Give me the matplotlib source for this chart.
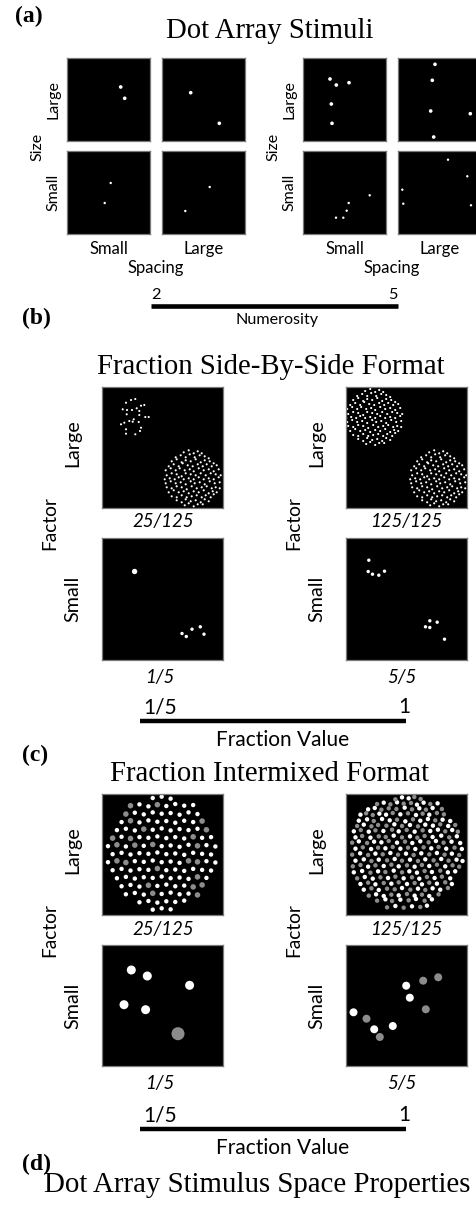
import numpy as np
import matplotlib as mpl
mpl.use('Agg')
from matplotlib import pyplot as plt

W, H = 476, 1212
SERIF = 'Liberation Serif'
SANS = 'Lato'
GREY = '#8c8c8c'

# (a) dot arrays, panel pixel coords (0..83), numerosity 2 and 5
A_N2_BIGSIZE_SMALLSP = [(53.7, 29), (57.7, 40.3)]
A_N2_BIGSIZE_LARGESP = [(28.7, 34.7), (57.3, 65.3)]
A_N2_SMALLSIZE_SMALLSP = [(43.7, 32), (37.7, 52)]
A_N2_SMALLSIZE_LARGESP = [(47.7, 36), (23.3, 60)]
A_N5_BIGSIZE_SMALLSP = [(27, 21), (33.3, 27), (46, 24.7), (28.3, 46), (29, 65.3)]
A_N5_BIGSIZE_LARGESP = [(37, 6.3), (34.3, 22.3), (32.7, 53), (72.3, 55.7), (35.7, 79)]
A_N5_SMALLSIZE_SMALLSP = [(66.7, 44.3), (45.7, 52), (43.7, 59.7), (33, 66.7), (40.3, 66.7)]
A_N5_SMALLSIZE_LARGESP = [(50, 8.7), (69.3, 25.3), (4.3, 38.7), (5.3, 52.7), (73, 54.3)]

# (b) side-by-side, panel pixel coords (0..121)
B_CLUSTER_25 = [(29, 13), (33.3, 12), (24, 15.7), (20.7, 22.3), (25, 23), (30, 23),
                (34.7, 21.3), (39, 18.7), (42.3, 18), (37.3, 24), (24.7, 27.3), (37.3, 28),
                (43.3, 30), (46.7, 30), (22.3, 35.7), (27.3, 34), (30.7, 34.7), (31.7, 32.3),
                (36.7, 35), (19, 37.3), (24, 42.3), (24, 46.7), (33.3, 47.3), (38, 44), (39, 40.7)]
# 125-dot cloud, offsets from cloud centre in pixels
B_CLUSTER_125 = """
-9,-26 -4,-28 1,-25 5,-27 9,-25
-17,-21 -12,-23 -7,-21 -3,-24 2,-21 7,-23 12,-22 16,-20
-21,-17 -16,-19 -11,-16 -7,-18 -2,-17 3,-19 8,-16 12,-18 17,-17 21,-15
-24,-12 -19,-14 -14,-12 -10,-15 -5,-13 0,-12 5,-14 10,-12 14,-14 19,-12 24,-13
-27,-8 -22,-10 -17,-8 -13,-10 -8,-8 -3,-9 1,-7 6,-10 11,-8 16,-9 21,-7 26,-9
-26,-3 -21,-5 -16,-4 -11,-2 -7,-5 -2,-4 3,-3 8,-5 13,-3 18,-5 23,-4 28,-3
-28,1 -23,0 -18,1 -14,-1 -9,1 -4,0 1,1 6,-1 11,1 16,0 21,1 26,-1
-27,5 -22,3 -17,5 -12,4 -7,6 -2,3 2,5 7,4 12,6 17,3 22,5 27,4
-26,9 -21,10 -16,8 -11,9 -6,11 -1,8 4,10 9,9 14,8 19,10 23,9 27,10
-24,14 -19,12 -14,14 -9,13 -4,15 1,13 6,14 11,12 16,15 20,13 24,14
-21,18 -16,19 -11,17 -6,19 -1,18 4,17 9,19 13,17 18,19 21,16
-16,22 -11,24 -7,21 -2,23 3,22 8,24 12,21 16,23
-8,27 -4,25 1,28 5,26 10,26
"""
B_SMALL_1 = [(32.6, 33)]
B_SMALL_5 = [(80, 95), (84.3, 98), (90, 90.7), (98.3, 88.3), (102, 95.7)]
B_SMALL_5A = [(23.3, 21.7), (22.7, 33), (27, 35.7), (33.3, 36.7), (39, 32.7)]
B_SMALL_5B = [(84.3, 82.3), (91.7, 83.7), (80, 88.3), (84.3, 89), (99, 100.7)]

# (c) intermixed, o = white dot, x = grey dot
C_LARGE_25 = """
158,24o 185,20o 212,26o
91,47x 118,43o 145,49o 172,44x 199,48o 226,42o 253,47o 280,45o
77,72x 104,68o 131,73o 158,67o 185,71o 212,69o 239,74o 266,67o 293,72o
64,96o 91,92x 118,97o 145,91o 172,95o 199,93o 226,98o 253,92o 280,96o 307,93x
50,120o 77,116o 104,121o 131,117x 158,119o 185,115o 212,121o 239,117o 266,120o 293,116o 320,119x
37,144x 64,140o 91,145x 118,141o 145,143o 172,139o 199,144o 226,141o 253,145o 280,140x 307,143o 334,141o
23,168o 50,164x 77,169o 104,165x 131,167o 158,163x 185,168o 212,166o 239,170o 266,164o 293,167x 320,165o 347,169o
37,192o 64,188o 91,193o 118,189o 145,191o 172,187o 199,192o 226,190o 253,194o 280,188o 307,191o 334,193o
23,216o 50,212x 77,217x 104,213o 131,215o 158,211o 185,216o 212,214o 239,218o 266,212x 293,215x 320,213o 347,217o
37,240o 64,236o 91,241o 118,237o 145,239o 172,235x 199,240o 226,238o 253,242o 280,236o 307,239o 334,241o
50,264o 77,260o 104,265o 131,261o 158,263o 185,259o 212,264o 239,262o 266,266o 293,260x 320,263o
64,288o 91,284o 118,289o 145,285x 172,287o 199,283o 226,288o 253,286o 280,290x 307,284x
77,312o 104,308o 131,313o 158,309x 185,311o 212,307o 239,312o 266,310o 293,314x
118,336o 145,332o 172,337o 199,333o 226,335o 253,331o
158,358o 185,354o 212,357o
"""
C_LARGE_125 = """
160,28x 180,22o 200,25o 217,21x 236,27x
105,42x 125,38o 145,43x 165,37o 185,41x 207,39x 225,44o 245,38o 265,42x 287,40o
78,58o 98,54o 118,59x 140,55x 163,57x 188,53o 210,58x 232,55o 252,59x 272,54o 300,57x
55,74o 72,70x 92,75x 112,71o 132,74o 152,69x 175,73o 198,70x 222,75o 242,71x 262,74o 285,69x 306,73x
50,92o 75,88o 95,93x 120,87o 143,91o 165,89x 190,94o 213,88x 235,92o 258,87o 280,91x 302,89o 325,93o
45,108x 65,104o 88,109x 108,105x 133,107x 157,103o 180,108x 204,105o 228,109x 250,104o 273,107o 295,103x 319,108o 340,105x
35,124o 56,120x 80,125o 100,121x 124,123o 150,119x 170,124o 194,120x 218,125o 242,121x 265,123o 288,119o 310,124x 331,120o 348,125x
40,142o 60,138x 85,143o 110,139x 131,141x 155,137o 180,142x 204,139o 226,143x 248,138x 272,141o 298,137o 322,142x 345,139o
30,158x 50,154o 75,159x 96,155o 118,157o 140,153x 165,158o 189,155x 211,159o 235,154o 260,157x 282,153o 305,158x 329,155o 355,159o
40,176o 62,172x 87,177o 108,173x 130,175o 152,171x 175,176o 198,173x 220,177o 245,172x 268,175o 290,171x 313,176o 338,173x 360,177o
30,194x 54,190o 78,195x 100,191o 122,193x 145,189o 168,194x 192,191o 215,195x 238,190o 262,193x 285,189o 308,194x 330,191o 352,195x
40,212o 65,208o 88,213x 110,209o 135,211x 158,207o 180,212x 204,209o 228,213x 250,208o 275,211x 298,207o 320,212x 344,209o 362,213o
32,229x 55,225x 78,230o 100,226x 125,228o 148,224x 170,229o 195,226x 218,230o 240,225x 262,228o 285,224x 310,229o 332,226x 352,230x
35,247o 60,243o 85,248x 108,244o 130,246x 155,242o 180,247x 202,244o 225,248o 248,243x 270,246o 295,242x 318,247o 340,244o
45,265x 68,261o 92,266o 115,262x 138,264o 160,260x 185,265o 210,262x 232,266o 255,261x 278,264o 300,260x 325,265o
55,282o 78,278x 100,283o 125,279x 148,281o 170,277x 195,282o 218,279x 240,283o 262,278x 285,281o 310,277x 330,282o
65,299o 88,295x 110,300o 135,296x 158,298x 180,294o 205,299x 228,296o 250,300x 272,295o 295,299o 318,294x
80,317x 102,313o 125,318o 148,314x 170,316o 195,312x 218,317o 240,314x 262,318o 290,313x
105,332x 130,328o 150,333x 175,329o 200,331x 222,327o 248,332x 270,328o
135,352x 160,348o 185,353x 210,349o 235,351x 255,347o
"""
C_SMALL_1_WHITE = [(29.3, 25), (45.3, 31), (87.6, 40.3), (22, 59.7), (43.6, 64.7)]
C_SMALL_1_GREY = [(76, 88.7)]
C_SMALL_5_WHITE = [(8, 67.3), (28.7, 84.3), (47.3, 81), (60.7, 40.7), (64.3, 52.7)]
C_SMALL_5_GREY = [(21, 73.7), (34.3, 92), (77.7, 35.7), (92.7, 32.3), (80.3, 64.3)]

ROW_LABELS = ['Large', 'Small']
COL_LABELS = ['Small', 'Large']
NUMEROSITY_ENDS = ['2', '5']
FRACTION_ENDS = ['1/5', '1']
B_FRACTIONS = ['25/125', '125/125', '1/5', '5/5']


def parse(txt):
    xs, ys, cs = [], [], []
    for tok in txt.split():
        c = 'o'
        if tok[-1].isalpha():
            c, tok = tok[-1], tok[:-1]
        x, y = tok.split(',')
        xs.append(float(x)); ys.append(float(y)); cs.append(c)
    return np.array(xs), np.array(ys), np.array(cs)


fig = plt.figure(figsize=(W / 100, H / 100), dpi=100)
bg = fig.add_axes([0, 0, 1, 1])
bg.set_xlim(0, W)
bg.set_ylim(H, 0)
bg.axis('off')


def panel(x, y, w, h, xlim, ylim):
    ax = fig.add_axes([x / W, 1 - (y + h) / H, w / W, h / H])
    ax.set_facecolor('black')
    ax.set_xticks([]); ax.set_yticks([])
    for s in ax.spines.values():
        s.set_color('#7a7a7a'); s.set_linewidth(0.9)
    ax.set_xlim(*xlim); ax.set_ylim(*ylim)
    return ax


def dots(ax, pts, s, color='white'):
    p = np.array(pts)
    ax.scatter(p[:, 0], p[:, 1], s=s, c=color, edgecolors='none')


def sans(x, y, t, size, **kw):
    bg.text(x, y, t, fontsize=size, family=SANS, ha='center', va='center', **kw)


def serif_title(x, y, t, size):
    bg.text(x, y, t, fontsize=size, family=SERIF, ha='center', va='baseline')


def letter(x, y, t):
    bg.text(x, y, t, fontsize=17, family=SERIF, weight='bold', ha='left', va='center')


# ---------------- (a)
letter(15, 16, '(a)')
serif_title(270, 38, 'Dot Array Stimuli', 20.7)
a_sets = [[A_N2_BIGSIZE_SMALLSP, A_N2_BIGSIZE_LARGESP, A_N2_SMALLSIZE_SMALLSP, A_N2_SMALLSIZE_LARGESP],
          [A_N5_BIGSIZE_SMALLSP, A_N5_BIGSIZE_LARGESP, A_N5_SMALLSIZE_SMALLSP, A_N5_SMALLSIZE_LARGESP]]
for g, gx in enumerate([67, 303]):
    colx = [gx, gx + 95]
    for k, pts in enumerate(a_sets[g]):
        r, c = divmod(k, 2)
        ax = panel(colx[c], [58, 151][r], 83, 83, (0, 83), (83, 0))
        dots(ax, pts, [7, 3][r])
    for r, lab in enumerate(ROW_LABELS):
        sans(gx - 14, [99.5, 192.5][r], lab, 11.5, rotation=90)
    sans(gx - 30, 147, 'Size', 11.5, rotation=90)
    for c, lab in enumerate(COL_LABELS):
        sans(colx[c] + 41.5, 249, lab, 12)
    sans(gx + 89, 268, 'Spacing', 12)

bg.plot([151, 398], [306, 306], color='k', lw=3.3, solid_capstyle='butt')
bg.text(151, 295, NUMEROSITY_ENDS[0], fontsize=11.8, family=SANS, ha='left', va='center')
bg.text(398, 295, NUMEROSITY_ENDS[1], fontsize=11.8, family=SANS, ha='right', va='center')
sans(277, 320, 'Numerosity', 11.6)

# ---------------- (b)
letter(22, 318, '(b)')
serif_title(271, 374, 'Fraction Side-By-Side Format', 20.7)
cx, cy, _ = parse(B_CLUSTER_125)
ax = panel(102, 387, 121, 121, (0, 121), (121, 0))
dots(ax, B_CLUSTER_25, 2.3)
ax.scatter(cx + 90.7, cy + 91.3, s=2.3, c='white', edgecolors='none')
ax = panel(345.5, 387, 121, 121, (0, 121), (121, 0))
ax.scatter(cx + 28.7, cy + 30, s=2.3, c='white', edgecolors='none')
ax.scatter(cx + 92.7, cy + 91.3, s=2.3, c='white', edgecolors='none')
ax = panel(102, 538.5, 121, 121, (0, 121), (121, 0))
dots(ax, B_SMALL_1, 15)
dots(ax, B_SMALL_5, 6)
ax = panel(345.5, 538.5, 121, 121, (0, 121), (121, 0))
dots(ax, B_SMALL_5A, 6)
dots(ax, B_SMALL_5B, 6)

# ---------------- (c)
letter(22, 755, '(c)')
serif_title(270, 781, 'Fraction Intermixed Format', 20.7)
x, y, c = parse(C_LARGE_25)
ax = panel(102, 794, 121, 121, (5, 370), (374, 12))
ax.scatter(x[c == 'o'], y[c == 'o'], s=10, c='white', edgecolors='none')
ax.scatter(x[c == 'x'], y[c == 'x'], s=16, c=GREY, edgecolors='none')
x, y, c = parse(C_LARGE_125)
ax = panel(345.5, 794, 121, 121, (10, 374), (375, 12))
ax.scatter(x[c == 'o'], y[c == 'o'], s=10, c='white', edgecolors='none')
ax.scatter(x[c == 'x'], y[c == 'x'], s=10, c=GREY, edgecolors='none')
ax = panel(102, 945, 121, 121, (0, 121), (121, 0))
dots(ax, C_SMALL_1_WHITE, 42)
dots(ax, C_SMALL_1_GREY, 88, GREY)
ax = panel(345.5, 945, 121, 121, (0, 121), (121, 0))
dots(ax, C_SMALL_5_WHITE, 33)
dots(ax, C_SMALL_5_GREY, 33, GREY)

# shared labels for (b) and (c)
for top, bar_y in [(387, 720.5), (794, 1128.5)]:
    bot = top + 151.5
    for px in [102, 345.5]:
        sans(px - 29, top + 56, ROW_LABELS[0], 14.2, rotation=90)
        sans(px - 52, top + 136, 'Factor', 13.8, rotation=90)
        sans(px - 29, bot + 60, ROW_LABELS[1], 14.2, rotation=90)
    sans(163, top + 135, B_FRACTIONS[0], 13.4, style='italic')
    sans(406, top + 135, B_FRACTIONS[1], 13.4, style='italic')
    sans(160, bot + 138.5, B_FRACTIONS[2], 13.4, style='italic')
    sans(402, bot + 138.5, B_FRACTIONS[3], 13.4, style='italic')
    bg.plot([140, 406], [bar_y, bar_y], color='k', lw=3.2, solid_capstyle='butt')
    bg.text(143, bar_y - 13.5, FRACTION_ENDS[0], fontsize=15, family=SANS, ha='left', va='center')
    bg.text(410, bar_y - 13.5, FRACTION_ENDS[1], fontsize=15, family=SANS, ha='right', va='center')
    sans(283, bar_y + 19.5, 'Fraction Value', 15)

# ---------------- (d)
letter(22, 1164, '(d)')
serif_title(257.5, 1192, 'Dot Array Stimulus Space Properties', 20.8)

fig.savefig('out.png', dpi=100)
